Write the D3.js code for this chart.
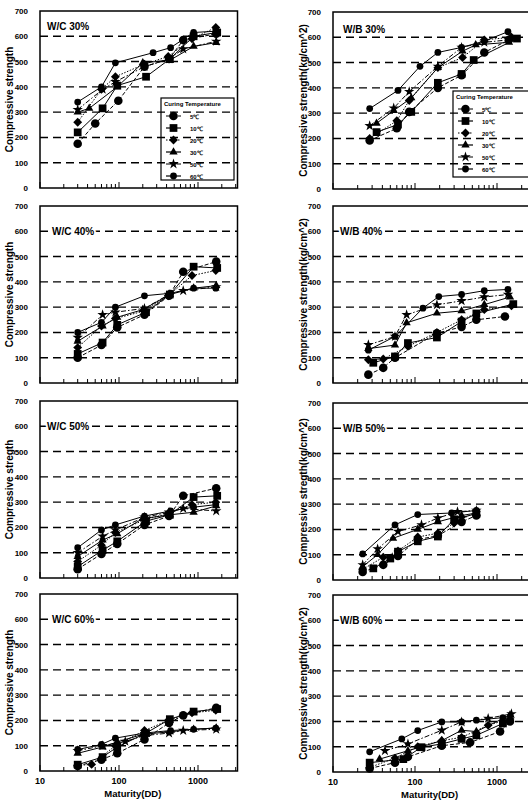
<!DOCTYPE html>
<html>
<head>
<meta charset="utf-8">
<script src="https://cdnjs.cloudflare.com/ajax/libs/d3/7.8.5/d3.min.js"></script>
<style>
body { margin: 0; background: #fff; }
svg text { font-family: "Liberation Sans", Arial, sans-serif; font-weight: bold; fill: #000; }
</style>
</head>
<body>
<svg id="chart" width="528" height="802"></svg>
<script>
var temps = ["5℃", "10℃", "20℃", "30℃", "50℃", "60℃"];
var panelNames = ["W/C 30%", "W/C 40%", "W/C 50%", "W/C 60%", "W/B 30%", "W/B 40%", "W/B 50%", "W/B 60%"];
var yTitles = ["Compressive strength", "Compressive strength", "Compressive stregth", "Compressive strength",
    "Compressive strength(kg/cm^2)", "Compressive strength(kg/cm^2)", "Compressive stregth(kg/cm^2)", "Compressive strength(kg/cm^2)"];
var yTicks = [0, 100, 200, 300, 400, 500, 600, 700];
var gridValues = [100, 200, 300, 400, 500, 600];
var xTickLabels = [10, 100, 1000];

// [maturity (DD), strength], one list per curing temperature (5,10,20,30,50,60)
var wc30 = [
    [[30,175],[50,255],[98,345],[210,480],[430,510],[650,585],[1700,610]],
    [[30,220],[62,315],[95,405],[220,440],[440,510],[880,600],[1750,615]],
    [[30,260],[60,390],[90,440],[210,490],[420,520],[840,590],[1680,635]],
    [[30,300],[42,315],[95,400],[200,495],[440,505],[880,560],[1700,575]],
    [[30,310],[62,390],[90,420],[210,480],[430,510],[650,550],[1700,580]],
    [[30,340],[60,400],[90,495],[270,535],[450,555],[880,615],[1680,620]]
];
var wc40 = [
    [[30,100],[60,150],[95,220],[210,270],[430,345],[650,440],[1700,480]],
    [[30,115],[62,160],[95,230],[220,280],[440,350],[880,460],[1750,455]],
    [[30,140],[60,225],[90,255],[210,285],[420,345],[840,425],[1680,445]],
    [[30,165],[62,225],[95,260],[200,290],[440,350],[880,375],[1700,385]],
    [[30,180],[62,270],[90,280],[210,295],[430,350],[650,365],[1700,380]],
    [[30,200],[60,240],[90,300],[210,345],[450,355],[880,375],[1680,375]]
];
var wc50 = [
    [[30,35],[60,95],[95,135],[210,210],[430,245],[650,325],[1700,355]],
    [[30,45],[62,110],[95,145],[220,225],[440,250],[880,320],[1750,325]],
    [[30,65],[60,130],[90,180],[210,230],[420,255],[840,290],[1680,300]],
    [[30,85],[62,150],[95,175],[200,235],[440,250],[880,260],[1700,285]],
    [[30,100],[62,165],[90,190],[210,240],[430,260],[650,275],[1700,265]],
    [[30,120],[60,190],[90,210],[210,245],[450,265],[880,280],[1680,290]]
];
var wc60 = [
    [[30,20],[60,45],[95,70],[210,125],[430,190],[650,220],[1700,250]],
    [[30,25],[62,55],[95,95],[220,150],[440,205],[880,235],[1750,245]],
    [[30,22],[45,26],[90,100],[210,160],[420,200],[840,230],[1680,240]],
    [[30,70],[62,95],[95,115],[200,145],[440,155],[880,165],[1700,170]],
    [[30,80],[62,100],[120,117],[210,140],[430,150],[650,160],[1700,165]],
    [[30,85],[60,105],[90,130],[210,150],[450,160],[880,165],[1680,170]]
];
var wb30 = [
    [[28,192],[60,240],[85,305],[190,400],[370,450],[700,540],[1400,590]],
    [[34,225],[62,255],[90,305],[190,420],[370,455],[520,510],[1750,595]],
    [[28,200],[60,270],[85,350],[190,480],[380,520],[700,590],[1500,600]],
    [[34,260],[55,310],[90,360],[190,480],[380,545],[550,570],[1400,580]],
    [[28,250],[55,320],[85,385],[190,485],[370,560],[700,580],[1400,590]],
    [[28,318],[62,390],[115,485],[190,540],[370,560],[700,585],[1360,622]]
];
var wb40 = [
    [[27,33],[41,60],[57,100],[185,197],[370,222],[560,250],[1250,263]],
    [[31,80],[57,105],[82,158],[185,180],[370,243],[560,275],[1580,312]],
    [[27,92],[41,95],[82,145],[185,200],[370,250],[700,290],[1500,305]],
    [[27,136],[57,150],[79,238],[185,276],[370,285],[700,310],[1440,340]],
    [[27,151],[57,184],[79,270],[185,309],[370,325],[700,340],[1360,350]],
    [[27,130],[57,184],[125,296],[195,342],[370,350],[700,365],[1360,370]]
];
var wb50 = [
    [[23,32],[41,60],[62,95],[108,160],[190,175],[370,230],[560,255]],
    [[31,46],[50,85],[62,112],[108,153],[190,172],[300,240],[560,262]],
    [[23,42],[41,90],[62,115],[108,170],[190,185],[300,225],[560,270]],
    [[23,53],[35,100],[54,165],[108,200],[190,230],[370,255],[560,265]],
    [[23,60],[35,123],[62,192],[120,218],[190,245],[330,270],[560,275]],
    [[23,103],[57,218],[108,259],[280,265],[560,275]]
];
var wb60 = [
    [[28,14],[57,37],[82,60],[212,104],[470,117],[1090,160],[1440,200]],
    [[28,37],[72,51],[120,98],[212,111],[370,131],[560,145],[1180,192]],
    [[28,18],[57,55],[108,100],[212,124],[370,137],[780,185],[1440,210]],
    [[37,51],[82,84],[212,124],[370,165],[560,160],[1440,225]],
    [[43,84],[82,111],[212,165],[370,198],[780,212],[1500,230]],
    [[28,80],[69,131],[108,164],[212,198],[370,198],[560,205],[1180,215]]
];

var panelData = [wc30, wc40, wc50, wc60, wb30, wb40, wb50, wb60];

var svg = d3.select("#chart");

// layout of the two columns
var cols = [
    {x0: 40, decade: 79, labelX: 34, titleX: 9, legend: {x: 161, y: 98, w: 73, h: 82}},
    {x0: 333, decade: 82, labelX: 327, titleX: 303, legend: {x: 453, y: 91, w: 90, h: 86}}
];
var tops = [[11, 206, 401, 594], [12, 206, 403, 595]];
var panelH = 177;
var titlePos = [[47, 640], [52, 600], [47, 600], [52, 600], [343, 630], [340, 600], [343, 600], [340, 600]];

var dashes = ["4,2", null, "1.5,1.5", null, "5,2,1.5,2", null];
var symbols = [d3.symbolCircle, d3.symbolSquare, d3.symbolDiamond2, d3.symbolTriangle, d3.symbolStar, d3.symbolCircle];
var symSizes = [58, 60, 50, 30, 34, 36];

function drawPanel(i) {
    var c = Math.floor(i / 4), r = i % 4;
    var col = cols[c];
    var top = tops[c][r];

    var x = d3.scaleLog().domain([10, Math.pow(10, 3.5)]).range([col.x0, col.x0 + 2.5 * col.decade]);
    var y = d3.scaleLinear().domain([0, 700]).range([top + panelH, top]);
    var g = svg.append("g");

    // dashed grid
    g.selectAll(".grid").data(gridValues).enter().append("line")
        .attr("x1", x.range()[0]).attr("x2", x.range()[1])
        .attr("y1", function(d) { return y(d); }).attr("y2", function(d) { return y(d); })
        .style("stroke", "#000").style("stroke-width", 1.4).style("stroke-dasharray", "8,5");

    // frame
    g.append("rect")
        .attr("x", x.range()[0]).attr("y", top)
        .attr("width", x.range()[1] - x.range()[0]).attr("height", panelH)
        .style("fill", "none").style("stroke", "#000").style("stroke-width", 1.5);

    // y tick labels
    g.selectAll(".yl").data(yTicks).enter().append("text")
        .attr("x", col.labelX - 6).attr("y", function(d) { return y(d) + 3; })
        .attr("text-anchor", "end").style("font-size", "8px")
        .text(function(d) { return d; });

    // log minor ticks on bottom, pointing in
    g.selectAll(".xt").data(x.ticks()).enter().append("line")
        .attr("x1", function(d) { return x(d); }).attr("x2", function(d) { return x(d); })
        .attr("y1", y(0)).attr("y2", function(d) { return y(0) - (xTickLabels.indexOf(d) >= 0 ? 6 : 4); })
        .style("stroke", "#000").style("stroke-width", 1);

    // y title
    g.append("text")
        .attr("transform", "translate(" + col.titleX + "," + (top + panelH / 2) + ") rotate(-90)")
        .attr("text-anchor", "middle").attr("dy", "0.35em")
        .style("font-size", "10px")
        .text(yTitles[i]);

    // panel title, white halo so the grid line stops at the text
    g.append("text")
        .attr("x", titlePos[i][0]).attr("y", y(titlePos[i][1]))
        .attr("dy", "0.35em").style("font-size", "10px")
        .style("stroke", "#fff").style("stroke-width", 4).style("paint-order", "stroke")
        .text(panelNames[i]);

    var line = d3.line()
        .x(function(d) { return x(d[0]); })
        .y(function(d) { return y(d[1]); });

    panelData[i].forEach(function(series, k) {
        g.append("path")
            .datum(series)
            .attr("d", line)
            .style("fill", "none").style("stroke", "#000").style("stroke-width", 1)
            .style("stroke-dasharray", dashes[k]);

        g.selectAll(".m" + k).data(series).enter().append("path")
            .attr("transform", function(d) { return "translate(" + x(d[0]) + "," + y(d[1]) + ")"; })
            .attr("d", d3.symbol().type(symbols[k]).size(symSizes[k]))
            .style("fill", "#000");
    });

    // x axis labels on bottom row only
    if (r == 3) {
        g.selectAll(".xl").data(xTickLabels).enter().append("text")
            .attr("x", function(d) { return x(d); }).attr("y", y(0) + 13)
            .attr("text-anchor", "middle").style("font-size", "9px")
            .text(function(d) { return d; });
        g.append("text")
            .attr("x", (x(10) + x(3000)) / 2 - 5).attr("y", y(0) + 26)
            .attr("text-anchor", "middle").style("font-size", "9.5px")
            .text("Maturity(DD)");
    }

    // legend in top row
    if (r == 0) {
        var L = col.legend;
        var lg = g.append("g").attr("transform", "translate(" + L.x + "," + L.y + ")");
        lg.append("rect").attr("width", L.w).attr("height", L.h)
            .style("fill", "none").style("stroke", "#000").style("stroke-width", 1.2);
        lg.append("text").attr("x", 3).attr("y", 8).style("font-size", "6px").text("Curing Temperature");
        temps.forEach(function(t, k) {
            var ly = 18 + k * 12;
            lg.append("line").attr("x1", 5).attr("x2", 20).attr("y1", ly).attr("y2", ly)
                .style("stroke", "#000").style("stroke-width", 1.2).style("stroke-dasharray", dashes[k]);
            lg.append("path").attr("transform", "translate(12.5," + ly + ")")
                .attr("d", d3.symbol().type(symbols[k]).size(symSizes[k]))
                .style("fill", "#000");
            lg.append("text").attr("x", 29).attr("y", ly + 2.5).style("font-size", "6px").text(t);
        });
    }
}

for (var i = 0; i < 8; i++) drawPanel(i);
</script>
</body>
</html>
